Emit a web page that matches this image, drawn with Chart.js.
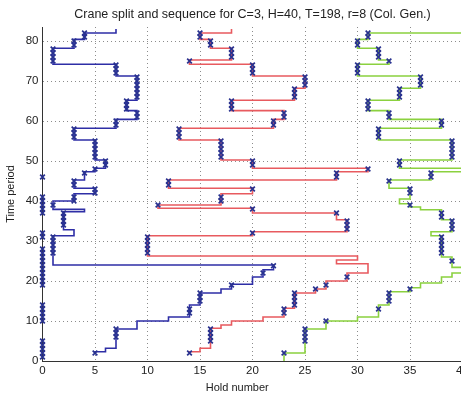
<!DOCTYPE html>
<html>
<head>
<meta charset="utf-8">
<script src="https://cdn.jsdelivr.net/npm/chart.js@4.4.0/dist/chart.umd.min.js"></script>
<style>
    html, body { margin: 0; padding: 0; overflow: hidden; background: #fff; }
    canvas { display: block; }
</style>
</head>
<body>
<canvas id="craneChart" width="480" height="396"></canvas>
<script>
// ticks
const xTicks = [0, 5, 10, 15, 20, 25, 30, 35, 40];
const yTicks = [0, 10, 20, 30, 40, 50, 60, 70, 80];

// crane paths: [hold, time] where the crane moves to that hold
const craneBlue = [[5,2],[6,2.3],[7,3.2],[9,8],[12,10],[14,11],[15,14],[17,17],[18,18],[20,19.2],[21,21],[22,22.8],
    [1,24],[3,31.3],[2,32.8],[4,37.3],[1,37.9],[3,40],[5,41.8],[3,43.2],[4,45.25],[5,47.3],[6,48.2],[5,50.25],
    [3,55.25],[7,58.2],[9,60.4],[8,62.6],[9,65.2],[7,71.25],[1,74.2],[3,78.2],[4,80.4],[7,82],[7,83]];
const craneRed = [[14,2],[15,2.3],[16,3.2],[17,8.2],[18,9],[21,10],[23,11],[24,13.2],[26,17],[27,18],[29,20],[31,22],
    [28,24.3],[30,25.25],[10,26.25],[20,31.3],[29,32.3],[28,35.3],[20,37],[11,38.2],[17,39],[20,41.8],[12,43.2],
    [28,45.25],[31,47.3],[20,48.2],[17,50.25],[13,55.25],[22,58.2],[23,60.4],[18,62.6],[24,65.2],[25,68.2],
    [20,71.25],[14,74.2],[18,75.25],[16,78.2],[15,80.4],[18,82],[18,83]];
const craneGreen = [[23,0],[25,2],[27,8],[30,10],[32,11],[33,14],[35,17.3],[36,18.3],[38,19.5],[39,21],[40,22],
    [39,23.4],[38,26],[37,31.3],[39,32.3],[38,35.3],[36,37.8],[35,38.5],[34,39.3],[35,40.5],[33,43.2],[37,45.25],
    [40,47.3],[34,48.2],[39,50.25],[32,55.25],[38,58.2],[33,60.4],[31,62.6],[34,65.2],[36,68.2],[30,71.25],
    [33,74.2],[32,75.25],[30,78.2],[31,80.4],[40,82],[40,83]];

// work markers: [hold, time]
const marksBlue = [[5,2],[7,6],[7,7],[7,8],[14,12],[14,13],[15,15],[15,16],[15,17],[18,19],[21,22],[22,23.8],
    [1,27],[1,28],[1,29],[1,30],[1,31],[2,34],[2,35],[2,36],[2,37],[1,39],[3,40],[3,41],[5,42],[5,43],[3,44],[3,45],
    [4,47],[5,48],[6,49],[6,50],[5,51],[5,52],[5,53],[5,54],[5,55],[3,56],[3,57],[3,58],[7,59],[7,60],[9,61],[9,62],
    [8,63],[8,64],[8,65],[9,66],[9,67],[9,68],[9,69],[9,70],[9,71],[7,72],[7,73],[7,74],[1,75],[1,76],[1,77],[1,78],
    [3,79],[3,80],[4,81],[4,82]];
const marksRed = [[14,2],[16,5],[16,6],[16,7],[16,8],[23,12],[23,13],[24,14],[24,15],[24,16],[24,17],[26,18],[27,19],
    [29,21],[10,27],[10,28],[10,29],[10,30],[10,31],[20,32],[29,33],[29,34],[29,35],[28,37],[20,38],[11,39],[17,40],
    [17,41],[20,43],[12,44],[12,45],[28,46],[28,47],[31,48],[20,49],[20,50],[17,51],[17,52],[17,53],[17,54],[17,55],
    [13,56],[13,57],[13,58],[22,59],[22,60],[23,61],[23,62],[18,63],[18,64],[18,65],[24,66],[24,67],[24,68],[25,69],
    [25,70],[25,71],[20,72],[20,73],[20,74],[14,75],[18,76],[18,77],[18,78],[16,79],[16,80],[15,81],[15,82]];
const marksGreen = [[23,2],[25,5],[25,6],[25,7],[25,8],[27,10],[32,13],[33,15],[33,16],[33,17],[35,18],[39,25],
    [38,27],[38,28],[38,29],[38,30],[38,31],[39,33],[39,34],[39,35],[38,36],[38,37],[35,39],[35,42],[35,43],[33,45],
    [37,46],[37,47],[34,49],[34,50],[39,51],[39,52],[39,53],[39,54],[39,55],[32,56],[32,57],[32,58],[38,59],[38,60],
    [33,61],[33,62],[31,63],[31,64],[31,65],[34,66],[34,67],[34,68],[36,69],[36,70],[36,71],[30,72],[30,73],[30,74],
    [33,75],[32,76],[32,77],[32,78],[30,79],[30,80],[31,81],[31,82]];

// markers sitting on the time axis (hold 0)
const axisMarkTimes = [1,2,3,4,5,10,11,12,13,14,19,20,21,22,23,24,25,26,27,28,31,32,37,38,39,40,41,46];

const fontFamily = '"Liberation Sans", Arial, Helvetica, sans-serif';
const markColor = '#28318f';

function toPoints(pairs) {
    return pairs.map(p => ({ x: p[0], y: p[1] }));
}

function pathSet(label, pairs, color) {
    return {
        label: label,
        data: toPoints(pairs),
        stepped: 'after',
        borderColor: color,
        borderWidth: 1.6,
        pointRadius: 0,
        fill: false,
        order: 2
    };
}

function markSet(label, pairs) {
    return {
        label: label,
        data: toPoints(pairs),
        showLine: false,
        pointStyle: 'crossRot',
        pointRadius: 3.3,
        pointBorderWidth: 1.7,
        pointBorderColor: markColor,
        pointBackgroundColor: markColor,
        clip: false,
        order: 1
    };
}

const ctx = document.getElementById('craneChart').getContext('2d');

new Chart(ctx, {
    type: 'line',
    data: {
        datasets: [
            pathSet('Crane 1', craneBlue, '#2e2ea6'),
            pathSet('Crane 2', craneRed, '#e85a5f'),
            pathSet('Crane 3', craneGreen, '#8bd13f'),
            markSet('Work 1', marksBlue),
            markSet('Work 2', marksRed),
            markSet('Work 3', marksGreen),
            markSet('Idle', axisMarkTimes.map(t => [0, t]))
        ]
    },
    options: {
        responsive: false,
        devicePixelRatio: 1,
        animation: false,
        layout: { padding: { left: 0, right: 17.5, top: 0, bottom: 0 } },
        plugins: {
            legend: { display: false },
            tooltip: { enabled: false },
            title: {
                display: true,
                fullSize: false,
                text: 'Crane split and sequence for C=3, H=40, T=198, r=8 (Col. Gen.)',
                color: '#222',
                font: { family: fontFamily, size: 12.5, weight: 'normal' },
                padding: { top: 7, bottom: 5 }
            }
        },
        scales: {
            x: {
                type: 'linear',
                min: 0,
                max: 40,
                afterBuildTicks: s => { s.ticks = xTicks.map(v => ({ value: v })); },
                afterFit: s => { s.height = 35; },
                grid: { color: '#8c8c8c', lineWidth: 1, drawTicks: false },
                border: { display: true, color: '#333', width: 1, dash: [1, 3] },
                ticks: {
                    padding: 3,
                    color: '#222',
                    maxRotation: 0,
                    autoSkip: false,
                    font: { family: fontFamily, size: 11.5 }
                },
                title: {
                    display: true,
                    // trailing spaces keep the label a little left of centre, as in the original
                    text: 'Hold number\u00a0\u00a0\u00a0\u00a0\u00a0\u00a0\u00a0\u00a0\u00a0\u00a0',
                    color: '#222',
                    font: { family: fontFamily, size: 11 },
                    padding: { top: 0, bottom: 1.5 }
                }
            },
            y: {
                type: 'linear',
                min: 0,
                max: 83.5,
                afterBuildTicks: s => { s.ticks = yTicks.map(v => ({ value: v })); },
                afterFit: s => { s.width = 42.5; },
                grid: { color: '#8c8c8c', lineWidth: 1, drawTicks: false },
                border: { display: true, color: '#333', width: 1, dash: [1, 3] },
                ticks: {
                    padding: 4,
                    color: '#222',
                    font: { family: fontFamily, size: 11.5 }
                },
                title: {
                    display: true,
                    text: 'Time period',
                    color: '#222',
                    font: { family: fontFamily, size: 11 },
                    padding: { top: 4, bottom: 0 }
                }
            }
        }
    }
});
</script>
</body>
</html>
